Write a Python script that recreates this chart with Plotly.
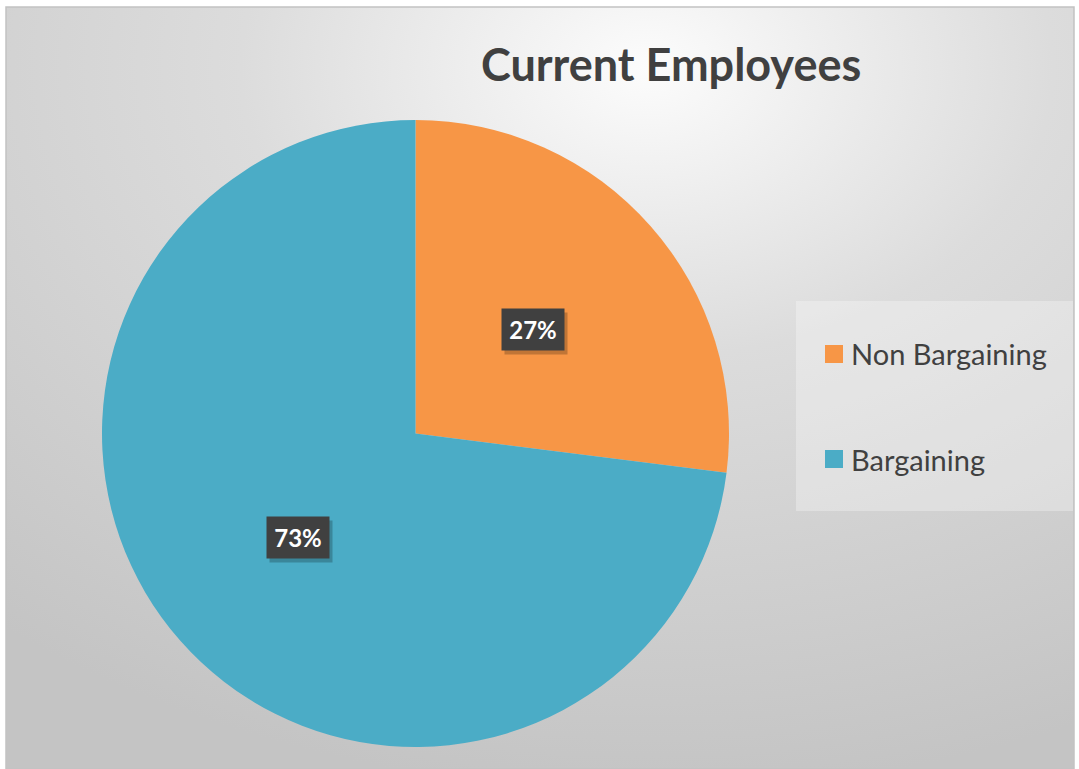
import base64
import math
import plotly.graph_objects as go

# Data
labels = ["Non Bargaining", "Bargaining"]
values = [27, 73]
colors = ["#F79646", "#4BACC6"]
title_text = "Current Employees"

# Canvas geometry (pixels)
W, H = 1079, 769
FRAME = (6, 7, 1074, 769)          # chart area: left, top, right, bottom
PIE_CX, PIE_CY, PIE_R = 415.5, 433.5, 313.5
LABEL_FRAC = 0.5                   # data labels sit half way out along each slice


def px(x):
    return x / W


def py(y):
    return 1 - y / H


# Soft radial background for the chart area
fw, fh = FRAME[2] - FRAME[0], FRAME[3] - FRAME[1]
svg = (
    f'<svg xmlns="http://www.w3.org/2000/svg" width="{fw}" height="{fh}" '
    f'viewBox="0 0 {fw} {fh}" preserveAspectRatio="none">'
    '<defs><radialGradient id="g" cx="0.6" cy="0.08" r="0.95">'
    '<stop offset="0" stop-color="#fcfcfc"/>'
    '<stop offset="0.4" stop-color="#dcdcdc"/>'
    '<stop offset="1" stop-color="#c4c4c4"/>'
    '</radialGradient></defs>'
    f'<rect width="{fw}" height="{fh}" fill="url(#g)"/></svg>'
)
bg_uri = "data:image/svg+xml;base64," + base64.b64encode(svg.encode()).decode()

fig = go.Figure(
    go.Pie(
        labels=labels,
        values=values,
        marker=dict(colors=colors, line=dict(width=0)),
        sort=False,
        direction="clockwise",
        rotation=0,
        textinfo="none",
        hoverinfo="label+percent",
        showlegend=False,
        domain=dict(
            x=[px(PIE_CX - PIE_R), px(PIE_CX + PIE_R)],
            y=[py(PIE_CY + PIE_R), py(PIE_CY - PIE_R)],
        ),
    )
)

annotations = []
shapes = []

# Percentage labels placed at each slice's mid-angle
total = sum(values)
cum = 0.0
for v in values:
    mid = (cum + v / 2) / total * 2 * math.pi
    cum += v
    lx = PIE_CX + LABEL_FRAC * PIE_R * math.sin(mid)
    ly = PIE_CY - LABEL_FRAC * PIE_R * math.cos(mid)
    pct = round(100 * v / total)
    common = dict(
        x=px(lx), y=py(ly), xref="paper", yref="paper",
        xanchor="center", yanchor="middle", showarrow=False,
        width=62, height=41, borderpad=0,
    )
    # drop shadow
    annotations.append(dict(
        text=" ", bgcolor="rgba(0,0,0,0.22)", xshift=3, yshift=-4, **common
    ))
    annotations.append(dict(
        text=f"<b>{pct}%</b>", bgcolor="#404040",
        font=dict(family="Lato, Open Sans, sans-serif", size=24, color="white"),
        **common,
    ))

# Title
annotations.append(dict(
    text=f"<b>{title_text}</b>", x=px(671), y=py(64), xref="paper", yref="paper",
    xanchor="center", yanchor="middle", showarrow=False,
    font=dict(family="Lato, Open Sans, sans-serif", size=45, color="#404040"),
))

# Legend panel
shapes.append(dict(
    type="rect", xref="paper", yref="paper",
    x0=px(796), x1=px(1073), y0=py(511), y1=py(301),
    fillcolor="rgba(255,255,255,0.3)", line=dict(width=0), layer="below",
))
LEG_X, LEG_Y0, LEG_STEP, SW = 825, 354, 105, 18
for i, (lab, col) in enumerate(zip(labels, colors)):
    yc = LEG_Y0 + i * LEG_STEP
    shapes.append(dict(
        type="rect", xref="paper", yref="paper",
        x0=px(LEG_X), x1=px(LEG_X + SW), y0=py(yc + SW / 2), y1=py(yc - SW / 2),
        fillcolor=col, line=dict(width=0),
    ))
    annotations.append(dict(
        text=lab, x=px(LEG_X + SW + 6), y=py(yc), xref="paper", yref="paper",
        xanchor="left", yanchor="middle", showarrow=False,
        font=dict(family="Lato, Open Sans, sans-serif", size=29, color="#404040"),
    ))

# Chart area border
shapes.append(dict(
    type="rect", xref="paper", yref="paper",
    x0=px(FRAME[0]), x1=px(FRAME[2]), y0=py(FRAME[3]), y1=py(FRAME[1]),
    line=dict(color="#c2c2c2", width=1.5), fillcolor="rgba(0,0,0,0)", layer="below",
))

fig.update_layout(
    width=W, height=H,
    margin=dict(l=0, r=0, t=0, b=0),
    paper_bgcolor="white",
    plot_bgcolor="rgba(0,0,0,0)",
    images=[dict(
        source=bg_uri, xref="paper", yref="paper",
        x=px(FRAME[0]), y=py(FRAME[1]),
        sizex=px(FRAME[2]) - px(FRAME[0]), sizey=py(FRAME[1]) - py(FRAME[3]),
        xanchor="left", yanchor="top", sizing="stretch", layer="below",
    )],
    annotations=annotations,
    shapes=shapes,
)

fig.write_html("out.html")
